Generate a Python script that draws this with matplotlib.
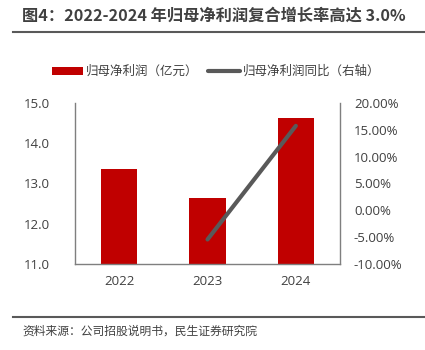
import numpy as np
import matplotlib.pyplot as plt
from matplotlib.lines import Line2D

plt.rcParams['font.family'] = ['Open Sans', 'Noto Sans CJK SC', 'DejaVu Sans']

years = ['2022', '2023', '2024']
profit = [13.35, 12.63, 14.61]          # 归母净利润（亿元）
growth_years = ['2023', '2024']
growth = [-5.4, 15.7]                   # 归母净利润同比（%）

bar_color = '#C00000'
line_color = '#595959'
text_color = '#404040'
cjk = ['Noto Sans CJK SC', 'DejaVu Sans']

fig = plt.figure(figsize=(4.25, 3.5), dpi=100)
ax = fig.add_axes([0.1765, 0.245, 0.6235, 0.4616])

ind = np.arange(len(years))
bars = ax.bar(ind, profit, 0.41, color=bar_color, zorder=2)
ax.set_ylim(11, 15)
ax.set_yticks([11, 12, 13, 14, 15])
ax.set_yticklabels(['%.1f' % v for v in [11, 12, 13, 14, 15]])
ax.set_xlim(-0.5, 2.5)
ax.set_xticks(ind)
ax.set_xticklabels(years)

ax2 = ax.twinx()
gx = [years.index(y) for y in growth_years]
line, = ax2.plot(gx, growth, color=line_color, linewidth=3, solid_capstyle='round', zorder=3)
ax2.set_ylim(-10, 20)
ticks = [-10, -5, 0, 5, 10, 15, 20]
ax2.set_yticks(ticks)
ax2.set_yticklabels(['%.2f%%' % v for v in ticks])

for a in (ax, ax2):
    for s in a.spines.values():
        s.set_visible(False)
    a.tick_params(length=0, labelsize=9.5, colors=text_color)
ax.spines['left'].set_visible(True)
ax.spines['bottom'].set_visible(True)
ax2.spines['right'].set_visible(True)
for s in (ax.spines['left'], ax.spines['bottom'], ax2.spines['right']):
    s.set_color('#7F7F7F')
    s.set_linewidth(1.0)
ax.tick_params(axis='y', pad=18)
ax.tick_params(axis='x', pad=8)
ax2.tick_params(axis='y', pad=10)

# title and rules
fig.text(0.052, 0.955, '图4：2022-2024 年归母净利润复合增长率高达 3.0%', fontsize=11.7,
         fontweight='bold', color=text_color, family=cjk, va='center')
fig.add_artist(Line2D([0.03, 1.0], [0.909, 0.909], color='#595959', linewidth=1.5))
fig.add_artist(Line2D([0.03, 1.0], [0.094, 0.094], color='#595959', linewidth=1.5))
fig.text(0.052, 0.055, '资料来源：公司招股说明书，民生证券研究院', fontsize=8.5,
         color=text_color, family=cjk, va='center')

leg = fig.legend([bars, line], ['归母净利润（亿元）', '归母净利润同比（右轴）'],
                 loc='center', bbox_to_anchor=(0.508, 0.795), ncol=2, frameon=False,
                 prop={'family': cjk, 'size': 9}, handlelength=2.5, handletextpad=0.25,
                 columnspacing=0.8)
for t in leg.get_texts():
    t.set_color(text_color)

fig.savefig('out.png', dpi=100)
